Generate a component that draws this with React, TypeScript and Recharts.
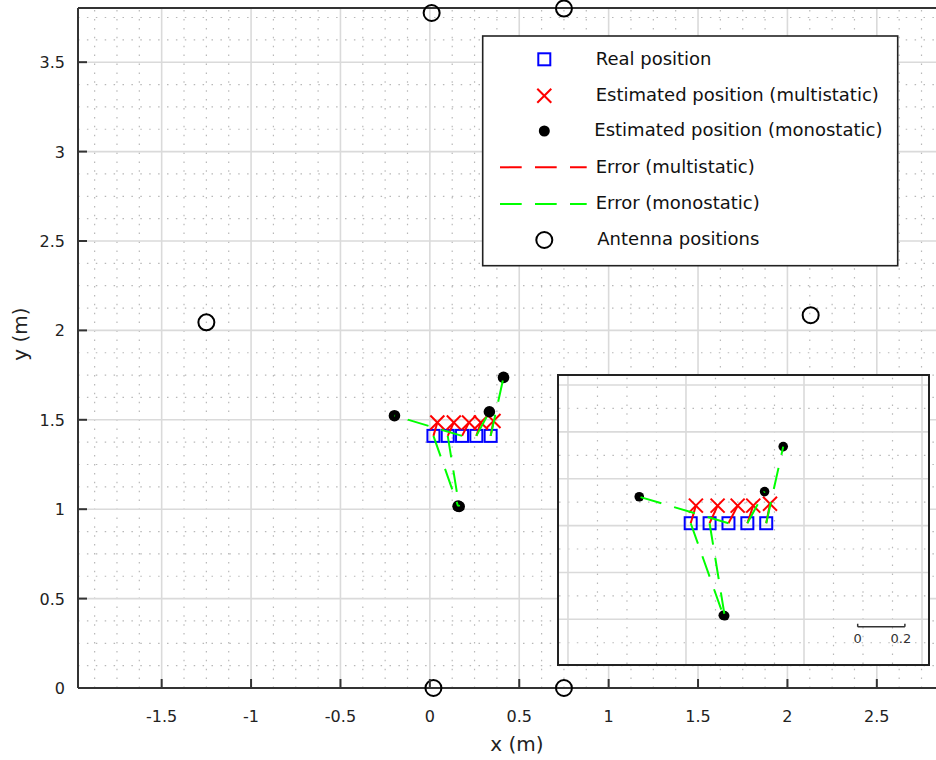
import React from 'react';
import { ScatterChart, Scatter, XAxis, YAxis, ReferenceLine, ReferenceDot } from 'recharts';

// ---- data (metres) ----
const realX = [0.02, 0.1, 0.18, 0.26, 0.34];
const realY = [1.41, 1.41, 1.41, 1.41, 1.41];
const multiX = [0.042, 0.134, 0.219, 0.285, 0.356];
const multiY = [1.485, 1.485, 1.485, 1.485, 1.493];
const monoX = [0.158, 0.164, -0.198, 0.333, 0.412];
const monoY = [1.017, 1.015, 1.523, 1.545, 1.737];
const antennaX = [0.01, 0.75, -1.25, 2.13, 0.02, 0.75];
const antennaY = [3.775, 3.8, 2.045, 2.085, 0.0, 0.0];

// ---- axes ----
const xTicks = [-1.5, -1, -0.5, 0, 0.5, 1, 1.5, 2, 2.5];
const yTicks = [0, 0.5, 1, 1.5, 2, 2.5, 3, 3.5];
const xDomain = [-1.968, 2.831];
const yDomain = [0, 3.803];
const minorStep = 0.125;

const insetXDomain = [-0.538, 1.0254];
const insetYDomain = [0.8092, 2.0384];
const insetXTicks = [-0.5, 0, 0.5, 1];
const insetYTicks = [1, 1.2, 1.4, 1.6, 1.8, 2];
const insetXMinorStep = 0.125;
const insetYMinor = [0.9, 1.1, 1.3, 1.5, 1.7, 1.9];
const scaleBarX = [0.7275, 0.9275];
const scaleBarY = 0.968;
const scaleBarLabels = ['0', '0.2'];

const legendLabels = [
  'Real position',
  'Estimated position (multistatic)',
  'Estimated position (monostatic)',
  'Error (multistatic)',
  'Error (monostatic)',
  'Antenna positions',
];

const FONT = 'DejaVu Sans, Verdana, sans-serif';
const GREEN = '#00ff00';
const RED = '#ff0000';
const BLUE = '#0000ff';
const DASH = '21.7 13.3';

const pts = (xs: number[], ys: number[]) => xs.map((x, i) => ({ x, y: ys[i] }));
const realData = pts(realX, realY);
const multiData = pts(multiX, multiY);
const monoData = pts(monoX, monoY);
const antennaData = pts(antennaX, antennaY);

function minorValues(domain: number[], step: number, majors: number[]) {
  const out: number[] = [];
  const start = Math.ceil(domain[0] / step);
  const end = Math.floor(domain[1] / step);
  for (let k = start; k <= end; k++) {
    const v = +(k * step).toFixed(4);
    if (!majors.some((m) => Math.abs(m - v) < 1e-6)) out.push(v);
  }
  return out;
}

const mainMinorX = minorValues(xDomain, minorStep, xTicks);
const mainMinorY = minorValues(yDomain, minorStep, yTicks).filter((v) => v > 0);
const insetMinorX = minorValues(insetXDomain, insetXMinorStep, insetXTicks);

const SquareShape = (p: any) => (
  <rect x={p.cx - 6} y={p.cy - 6} width={12} height={12} fill="none" stroke={BLUE} strokeWidth={2} />
);
const CrossShape = (p: any) => (
  <g stroke={RED} strokeWidth={2}>
    <line x1={p.cx - 7} y1={p.cy - 7} x2={p.cx + 7} y2={p.cy + 7} />
    <line x1={p.cx - 7} y1={p.cy + 7} x2={p.cx + 7} y2={p.cy - 7} />
  </g>
);
const DotShape = (r: number) => (p: any) => <circle cx={p.cx} cy={p.cy} r={r} fill="#000" />;
const RingShape = (p: any) => (
  <circle cx={p.cx} cy={p.cy} r={8} fill="none" stroke="#000" strokeWidth={2} />
);
const NoShape = () => <g />;

const XTick = (props: any) => {
  const { x, y, payload } = props;
  return (
    <g>
      <line x1={x} y1={y} x2={x} y2={y - 9} stroke="#333" strokeWidth={2} />
      <text x={x} y={y + 34} textAnchor="middle" fontFamily={FONT} fontSize={16} fill="#222">
        {String(payload.value)}
      </text>
    </g>
  );
};
const YTick = (props: any) => {
  const { x, y, payload } = props;
  return (
    <g>
      <line x1={x} y1={y} x2={x + 9} y2={y} stroke="#333" strokeWidth={2} />
      <text x={x - 13} y={y + 6} textAnchor="end" fontFamily={FONT} fontSize={16} fill="#222">
        {String(payload.value)}
      </text>
    </g>
  );
};
const InsetXTick = (props: any) => {
  const { x, y } = props;
  return <line x1={x} y1={y} x2={x} y2={y - 4} stroke="#333" strokeWidth={1.5} />;
};
const InsetYTick = (props: any) => {
  const { x, y } = props;
  return <line x1={x} y1={y} x2={x + 4} y2={y} stroke="#333" strokeWidth={1.5} />;
};

function gridLines(
  majX: number[],
  minX: number[],
  majY: number[],
  minY: number[],
  prefix: string
) {
  const minorProps = { stroke: '#b8b8b8', strokeWidth: 1.2, strokeDasharray: '1.5 7.4' };
  const majorProps = { stroke: '#dadada', strokeWidth: 1.6 };
  return [
    ...minX.map((v) => <ReferenceLine key={prefix + 'mx' + v} x={v} {...minorProps} />),
    ...minY.map((v) => <ReferenceLine key={prefix + 'my' + v} y={v} {...minorProps} />),
    ...majX.map((v) => <ReferenceLine key={prefix + 'Mx' + v} x={v} {...majorProps} />),
    ...majY.map((v) => <ReferenceLine key={prefix + 'My' + v} y={v} {...majorProps} />),
  ];
}

function errorSeries(prefix: string) {
  const red = realData.map((r, i) => (
    <Scatter
      key={prefix + 'r' + i}
      data={[r, multiData[i]]}
      shape={NoShape}
      line={{ stroke: RED, strokeWidth: 2, strokeDasharray: DASH }}
      isAnimationActive={false}
    />
  ));
  const green = realData.map((r, i) => (
    <Scatter
      key={prefix + 'g' + i}
      data={[r, monoData[i]]}
      shape={NoShape}
      line={{ stroke: GREEN, strokeWidth: 2, strokeDasharray: DASH }}
      isAnimationActive={false}
    />
  ));
  return [...red, ...green];
}

const ScaleLabel = (text: string, dx: number) => (p: any) => (
  <text x={p.cx + dx} y={p.cy + 16} textAnchor="middle" fontFamily={FONT} fontSize={13} fill="#333">
    {text}
  </text>
);

const Legend = () => {
  const left = 482.7;
  const top = 36;
  const symX = 544.3;
  const textX = 595.7;
  const rowsSym = [59.3, 95.7, 131, 167.3, 204, 240];
  const rowsText = [65, 100.7, 136, 172.7, 209.3, 245];
  const textXs = [textX, textX, 594.3, textX, textX, 597.3];
  return (
    <g>
      <rect x={left} y={top} width={415} height={229.7} fill="#fff" stroke="#222" strokeWidth={1.6} />
      <SquareShape cx={symX} cy={rowsSym[0]} />
      <CrossShape cx={symX} cy={rowsSym[1]} />
      <circle cx={symX} cy={rowsSym[2]} r={5.5} fill="#000" />
      <line x1={500} y1={rowsSym[3]} x2={586.7} y2={rowsSym[3]} stroke={RED} strokeWidth={2} strokeDasharray={DASH} />
      <line x1={500} y1={rowsSym[4]} x2={586.7} y2={rowsSym[4]} stroke={GREEN} strokeWidth={2} strokeDasharray={DASH} />
      <RingShape cx={symX} cy={rowsSym[5]} />
      {legendLabels.map((l, i) => (
        <text key={l} x={textXs[i]} y={rowsText[i]} fontFamily={FONT} fontSize={18} fill="#111">
          {l}
        </text>
      ))}
    </g>
  );
};

export default function App() {
  return (
    <div style={{ position: 'absolute', left: 0, top: 0, width: 936, height: 760, background: '#fff', overflow: 'hidden' }}>
      <div style={{ position: 'absolute', left: 0, top: 0 }}>
        <ScatterChart width={936} height={760} margin={{ top: 8, right: 0, bottom: 32, left: 18 }}>
          <XAxis
            type="number"
            dataKey="x"
            domain={xDomain}
            ticks={xTicks}
            interval={0}
            height={40}
            tickSize={0}
            tickMargin={0}
            tickLine={false}
            axisLine={{ stroke: '#333', strokeWidth: 2 }}
            tick={<XTick />}
          />
          <YAxis
            type="number"
            dataKey="y"
            domain={yDomain}
            ticks={yTicks}
            interval={0}
            width={60}
            tickSize={0}
            tickMargin={0}
            tickLine={false}
            axisLine={{ stroke: '#333', strokeWidth: 2 }}
            tick={<YTick />}
          />
          {gridLines(xTicks, mainMinorX, yTicks.filter((v) => v > 0), mainMinorY, 'main')}
          <ReferenceLine y={yDomain[1]} stroke="#333" strokeWidth={2} />
          <Scatter data={realData} shape={SquareShape} isAnimationActive={false} />
          <Scatter data={multiData} shape={CrossShape} isAnimationActive={false} />
          <Scatter data={monoData} shape={DotShape(5.8)} isAnimationActive={false} />
          <Scatter data={antennaData} shape={RingShape} isAnimationActive={false} />
          {errorSeries('main')}
        </ScatterChart>
      </div>

      <svg width={936} height={760} style={{ position: 'absolute', left: 0, top: 0, pointerEvents: 'none' }}>
        <Legend />
        <text x={517} y={751} textAnchor="middle" fontFamily={FONT} fontSize={20} fill="#222">
          x (m)
        </text>
        <text transform="translate(27,334) rotate(-90)" textAnchor="middle" fontFamily={FONT} fontSize={20} fill="#222">
          y (m)
        </text>
      </svg>

      <div
        style={{
          position: 'absolute',
          left: 557,
          top: 374,
          width: 369,
          height: 288,
          border: '2px solid #222',
          background: '#fff',
        }}
      >
        <ScatterChart width={369} height={288} margin={{ top: 0, right: 0, bottom: 0, left: 0 }}>
          <XAxis
            type="number"
            dataKey="x"
            domain={insetXDomain}
            ticks={insetXTicks}
            interval={0}
            height={0}
            tickSize={0}
            tickMargin={0}
            tickLine={false}
            axisLine={false}
            tick={<InsetXTick />}
          />
          <YAxis
            type="number"
            dataKey="y"
            domain={insetYDomain}
            ticks={insetYTicks}
            interval={0}
            width={0}
            tickSize={0}
            tickMargin={0}
            tickLine={false}
            axisLine={false}
            tick={<InsetYTick />}
          />
          {gridLines(insetXTicks, insetMinorX, insetYTicks, insetYMinor, 'inset')}
          <Scatter data={realData} shape={SquareShape} isAnimationActive={false} />
          <Scatter data={multiData} shape={CrossShape} isAnimationActive={false} />
          <Scatter data={monoData} shape={DotShape(4.8)} isAnimationActive={false} />
          {errorSeries('inset')}
          <ReferenceLine
            segment={[
              { x: scaleBarX[0], y: scaleBarY },
              { x: scaleBarX[1], y: scaleBarY },
            ]}
            stroke="#333"
            strokeWidth={1.5}
          />
          {scaleBarX.map((v) => (
            <ReferenceLine
              key={'sb' + v}
              segment={[
                { x: v, y: scaleBarY },
                { x: v, y: scaleBarY + 0.013 },
              ]}
              stroke="#333"
              strokeWidth={1.5}
            />
          ))}
          <ReferenceDot x={scaleBarX[0]} y={scaleBarY} r={0} shape={ScaleLabel(scaleBarLabels[0], 0)} />
          <ReferenceDot x={scaleBarX[1]} y={scaleBarY} r={0} shape={ScaleLabel(scaleBarLabels[1], -4)} />
        </ScatterChart>
      </div>
    </div>
  );
}
